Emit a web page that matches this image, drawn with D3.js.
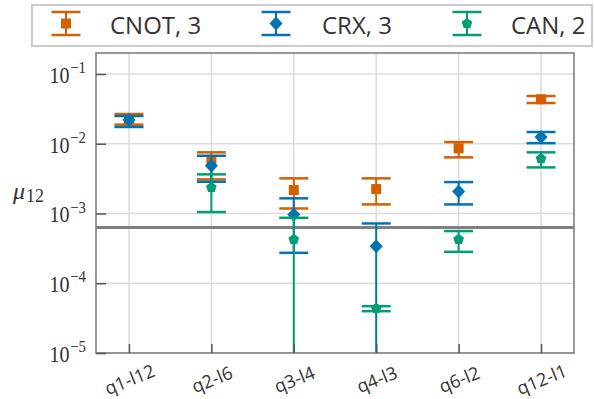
<!DOCTYPE html>
<html>
<head>
<meta charset="utf-8">
<script src="https://cdn.jsdelivr.net/npm/d3@7"></script>
<style>
  html, body { margin: 0; padding: 0; background: #fff; }
  svg { display: block; }
</style>
</head>
<body>
<svg id="chart" width="595" height="399"></svg>
<script>
// Qubit pairs along the x axis
const categories = ["q1-l12", "q2-l6", "q3-l4", "q4-l3", "q6-l2", "q12-l1"];

// mu_12 estimates with lower / upper error bounds (null = no value, 0 = bound below the axis)
const cnotValue = [0.0226, 0.00552, 0.00217, 0.00224, 0.00859, 0.0434];
const cnotLow   = [0.0188, 0.00308, 0.00118, 0.00135, 0.00638, 0.0384];
const cnotHigh  = [0.0267, 0.00753, 0.00319, 0.00319, 0.01057, 0.0483];

const crxValue = [0.0219, 0.00483, 0.00097, 0.00034, 0.00207, 0.01247];
const crxLow   = [0.0174, 0.00285, 0.000273, 0, 0.00135, 0.0102];
const crxHigh  = [0.0250, 0.00673, 0.00165, 0.00072, 0.00282, 0.01472];

const canValue = [null, 0.00237, 0.000425, 0.0000435, 0.000425, 0.0061];
const canLow   = [null, 0.00105, 0, 0.0000398, 0.000282, 0.00458];
const canHigh  = [null, 0.00364, 0.000867, 0.0000469, 0.00056, 0.00753];

// Reference level drawn as a horizontal line
const thresholdValue = 0.00063;

// Log-axis decades and legend entries
const yTickExponents = [-1, -2, -3, -4, -5];
const seriesNames = ["CNOT, 3", "CRX, 3", "CAN, 2"];

const series = [
  { name: seriesNames[0], value: cnotValue, low: cnotLow, high: cnotHigh, color: "#d55e00", marker: "square" },
  { name: seriesNames[1], value: crxValue,  low: crxLow,  high: crxHigh,  color: "#0173b2", marker: "diamond" },
  { name: seriesNames[2], value: canValue,  low: canLow,  high: canHigh,  color: "#029e73", marker: "pentagon" }
];

const svg = d3.select("#chart");
const plot = { left: 96, right: 574, top: 53, bottom: 353 };

const x = d3.scaleLinear().domain([-0.4, categories.length - 0.6]).range([plot.left, plot.right]);
const y = d3.scaleLog().domain([1e-5, 0.2]).range([plot.bottom, plot.top]);

const sansFont = "'Open Sans', 'Noto Sans', sans-serif";
const mathFont = "'Liberation Serif', 'DejaVu Serif', serif";

// Grid lines
const grid = svg.append("g");
grid.selectAll("line.vg").data(categories).join("line")
  .attr("x1", (d, i) => x(i)).attr("x2", (d, i) => x(i))
  .attr("y1", plot.top).attr("y2", plot.bottom)
  .attr("stroke", "#dcdcdc").attr("stroke-width", 1.5);
grid.selectAll("line.hg").data(yTickExponents).join("line")
  .attr("x1", plot.left).attr("x2", plot.right)
  .attr("y1", d => y(Math.pow(10, d))).attr("y2", d => y(Math.pow(10, d)))
  .attr("stroke", "#dcdcdc").attr("stroke-width", 1.5);

// Threshold line
svg.append("line")
  .attr("x1", plot.left).attr("x2", plot.right)
  .attr("y1", y(thresholdValue)).attr("y2", y(thresholdValue))
  .attr("stroke", "#808080").attr("stroke-width", 3);

// Marker shapes
function pentagonPath(r) {
  const pts = d3.range(5).map(k => {
    const a = -Math.PI / 2 + k * 2 * Math.PI / 5;
    return [r * Math.cos(a), r * Math.sin(a)];
  });
  return "M" + pts.map(p => p.join(",")).join("L") + "Z";
}
function markerPath(kind) {
  if (kind === "pentagon") return pentagonPath(5.6);
  if (kind === "diamond") return "M0,-7L6.5,0L0,7L-6.5,0Z";
  return d3.symbol().type(d3.symbolSquare).size(100)();
}

const capHalf = 14.5;
const clipBottom = y.domain()[0];

// Error bars and markers
const dataLayer = svg.append("g");
series.forEach(s => {
  const g = dataLayer.append("g");
  const rows = s.value.map((v, i) => ({ i, v, lo: s.low[i], hi: s.high[i] })).filter(r => r.v !== null);
  g.selectAll("line.stem").data(rows).join("line")
    .attr("x1", r => x(r.i)).attr("x2", r => x(r.i))
    .attr("y1", r => y(Math.max(r.lo, clipBottom))).attr("y2", r => y(r.hi))
    .attr("stroke", s.color).attr("stroke-width", 2);
  g.selectAll("line.capHi").data(rows).join("line")
    .attr("x1", r => x(r.i) - capHalf).attr("x2", r => x(r.i) + capHalf)
    .attr("y1", r => y(r.hi)).attr("y2", r => y(r.hi))
    .attr("stroke", s.color).attr("stroke-width", 2.5);
  g.selectAll("line.capLo").data(rows.filter(r => r.lo > clipBottom)).join("line")
    .attr("x1", r => x(r.i) - capHalf).attr("x2", r => x(r.i) + capHalf)
    .attr("y1", r => y(r.lo)).attr("y2", r => y(r.lo))
    .attr("stroke", s.color).attr("stroke-width", 2.5);
  g.selectAll("path.mark").data(rows).join("path")
    .attr("d", markerPath(s.marker))
    .attr("transform", r => `translate(${x(r.i)},${y(r.v)})`)
    .attr("fill", s.color);
});

// Axes frame
svg.append("rect")
  .attr("x", plot.left).attr("y", plot.top)
  .attr("width", plot.right - plot.left).attr("height", plot.bottom - plot.top)
  .attr("fill", "none").attr("stroke", "#808080").attr("stroke-width", 1.6);

// Y axis: inward ticks, math-style labels
const yAxis = d3.axisLeft(y).tickValues(yTickExponents.map(e => Math.pow(10, e)))
  .tickSizeInner(-10).tickSizeOuter(0).tickFormat("");
const yAxisG = svg.append("g").attr("transform", `translate(${plot.left},0)`).call(yAxis);
yAxisG.select(".domain").remove();
yAxisG.selectAll(".tick line").attr("stroke", "#555").attr("stroke-width", 1.5);
yAxisG.selectAll(".tick").each(function (d) {
  const e = Math.round(Math.log10(d));
  const t = d3.select(this).append("text")
    .attr("transform", "translate(-10,8.5) scale(0.87,1)")
    .attr("text-anchor", "end")
    .attr("fill", "#333")
    .attr("font-family", mathFont);
  t.append("tspan").attr("font-size", 23).text("10");
  t.append("tspan").attr("font-size", 17).attr("dy", -10).attr("dx", 1).text("\u2212" + Math.abs(e));
});

// X axis: inward ticks, rotated category labels
const xAxis = d3.axisBottom(x).tickValues(d3.range(categories.length))
  .tickSizeInner(-9).tickSizeOuter(0).tickFormat("");
const xAxisG = svg.append("g").attr("transform", `translate(0,${plot.bottom})`).call(xAxis);
xAxisG.select(".domain").remove();
xAxisG.selectAll(".tick line").attr("stroke", "#555").attr("stroke-width", 1.5);
xAxisG.selectAll(".tick").append("text")
  .attr("transform", "translate(0,26) rotate(-22)")
  .attr("text-anchor", "middle")
  .attr("dominant-baseline", "central")
  .attr("fill", "#333")
  .attr("font-family", sansFont)
  .attr("font-size", 18)
  .text(d => categories[d]);

// Y axis title
const yTitle = svg.append("text")
  .attr("x", 13).attr("y", 199)
  .attr("fill", "#333")
  .attr("font-family", mathFont);
yTitle.append("tspan").attr("font-style", "italic").attr("font-size", 24).text("\u03bc");
yTitle.append("tspan").attr("font-size", 18).attr("dy", 3).attr("dx", 1).text("12");

// Legend
const legend = svg.append("g");
legend.append("rect")
  .attr("x", 32).attr("y", 5).attr("width", 560).attr("height", 41)
  .attr("fill", "#fff").attr("stroke", "#cccccc").attr("stroke-width", 2);
const legendIconX = [66, 276, 467];
const legendTextX = [110, 322, 511];
series.forEach((s, k) => {
  const g = legend.append("g").attr("transform", `translate(${legendIconX[k]},23.5)`);
  g.append("line").attr("x1", 0).attr("x2", 0).attr("y1", -11.5).attr("y2", 11.5)
    .attr("stroke", s.color).attr("stroke-width", 2);
  [-11.5, 11.5].forEach(cy => g.append("line")
    .attr("x1", -capHalf).attr("x2", capHalf).attr("y1", cy).attr("y2", cy)
    .attr("stroke", s.color).attr("stroke-width", 2.5));
  g.append("path").attr("d", markerPath(s.marker)).attr("fill", s.color);
  legend.append("text")
    .attr("x", legendTextX[k]).attr("y", 24)
    .attr("dominant-baseline", "central")
    .attr("fill", "#333")
    .attr("font-family", sansFont)
    .attr("font-size", 24)
    .text(s.name);
});
</script>
</body>
</html>
